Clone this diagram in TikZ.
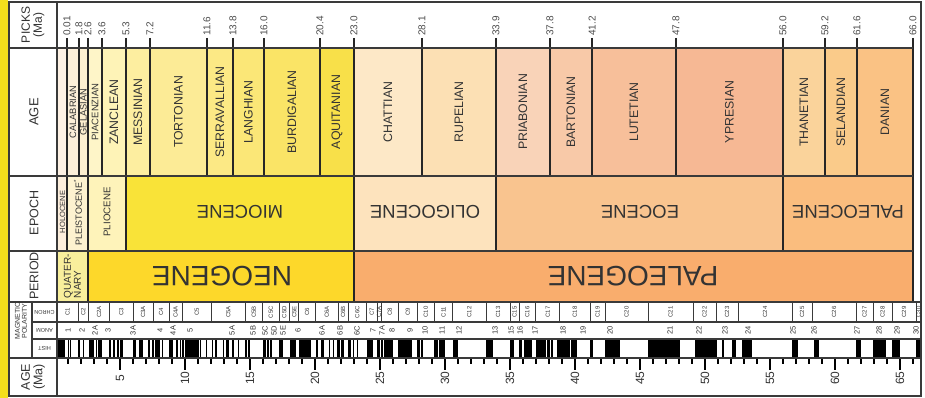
\documentclass[tikz,border=0pt]{standalone}
\usepackage{fontspec}
\setmainfont{Liberation Sans}
\newcommand\fsz[1]{\fontsize{#1}{#1}\selectfont}
\definecolor{ink}{HTML}{333333}
\definecolor{rule}{HTML}{3A3A3A}
\definecolor{stripe}{HTML}{F4DF1C}
\definecolor{quat}{HTML}{F8EF9C}
\definecolor{neog}{HTML}{FDD82A}
\definecolor{paleog}{HTML}{F9AD6D}
\definecolor{holo}{HTML}{FCEEDC}
\definecolor{pleis}{HTML}{FDF2D0}
\definecolor{plio}{HTML}{FEF3BA}
\definecolor{mioc}{HTML}{F9E338}
\definecolor{olig}{HTML}{FDE3BD}
\definecolor{eoc}{HTML}{F9C48F}
\definecolor{paleoc}{HTML}{FABD7E}
\definecolor{ageHol}{HTML}{FDF1E4}
\definecolor{ageCal}{HTML}{FCEFD9}
\definecolor{ageGel}{HTML}{FCEFD0}
\definecolor{agePia}{HTML}{FEF5C8}
\definecolor{ageZan}{HTML}{FEF3B7}
\definecolor{ageMes}{HTML}{FDEEA0}
\definecolor{ageTor}{HTML}{FCEB96}
\definecolor{ageSer}{HTML}{FCE985}
\definecolor{ageLan}{HTML}{FBE777}
\definecolor{ageBur}{HTML}{FAE466}
\definecolor{ageAqu}{HTML}{F8E049}
\definecolor{ageCha}{HTML}{FDE8C7}
\definecolor{ageRup}{HTML}{FCE0B4}
\definecolor{agePri}{HTML}{F9D3B8}
\definecolor{ageBar}{HTML}{F8C9A8}
\definecolor{ageLut}{HTML}{F7BF9A}
\definecolor{ageYpr}{HTML}{F6B894}
\definecolor{ageTha}{HTML}{FAD39B}
\definecolor{ageSel}{HTML}{FACB8A}
\definecolor{ageDan}{HTML}{FAC284}
\begin{document}
\begin{tikzpicture}[x=1pt,y=-1pt,
  rowline/.style={draw=rule,line width=1.1pt},
  bound/.style={draw=black!85,line width=1.1pt},
  tick/.style={draw=black,line width=1.4pt},
  vtext/.style={rotate=90,inner sep=0pt,text=ink,align=center},
  utext/.style={rotate=180,inner sep=0pt,text=ink},
  ltext/.style={vtext,align=left}]
\useasboundingbox (0,0) rectangle (925,398);
\fill[white] (0,0) rectangle (925,398);
\fill[stripe] (0,0) rectangle (8,398);
% ages
\fill[ageHol] (57,48) rectangle (67,176);
\foreach \l/\r/\c/\t/\s in {67/79/ageCal/CALABRIAN/9.3,79/88/ageGel/GELASIAN/9.3,88/102/agePia/PIACENZIAN/9.5,
  102/126/ageZan/ZANCLEAN/12.3,126/150/ageMes/MESSINIAN/12.3,150/207/ageTor/TORTONIAN/12.3,
  207/233/ageSer/SERRAVALLIAN/12.3,233/264/ageLan/LANGHIAN/12.3,264/320/ageBur/BURDIGALIAN/12.3,
  320/354/ageAqu/AQUITANIAN/12.3,354/422/ageCha/CHATTIAN/12.3,422/496/ageRup/RUPELIAN/12.3,
  496/550/agePri/PRIABONIAN/12.3,550/592/ageBar/BARTONIAN/12.3,592/676/ageLut/LUTETIAN/12.3,
  676/783/ageYpr/YPRESIAN/12.3,783/825/ageTha/THANETIAN/12.3,825/857/ageSel/SELANDIAN/12.3,
  857/913/ageDan/DANIAN/12.3}{
  \fill[\c] (\l,48) rectangle (\r,176);
  \node[vtext,font=\fsz{\s}] (age-\t) at ({(\l+\r)/2},112) {\t};
}
% epochs
\foreach \l/\r/\c in {57/67/holo,67/88/pleis,88/126/plio,126/354/mioc,354/496/olig,496/783/eoc,783/913/paleoc}
  \fill[\c] (\l,176) rectangle (\r,251);
\node[vtext,font=\fsz{7.5}] (holocene) at (62.5,212) {HOLOCENE};
\node[vtext,font=\fsz{9}] (pleistocene) at (78,213) {PLEISTOCENE\textsuperscript{*}};
\node[vtext,font=\fsz{9.7}] (pliocene) at (107,212) {PLIOCENE};
\node[utext,font=\fsz{18.5}] (miocene) at (240,212) {MIOCENE};
\node[utext,font=\fsz{18.5}] (oligocene) at (425,212) {OLIGOCENE};
\node[utext,font=\fsz{18.5}] (eocene) at (640,212) {EOCENE};
\node[utext,font=\fsz{18.5}] (paleocene) at (848,212) {PALEOCENE};
% periods
\fill[quat] (57,251) rectangle (88,302);
\fill[neog] (88,251) rectangle (354,302);
\fill[paleog] (354,251) rectangle (913,302);
\node[ltext,font=\fsz{10}] (quaternary) at (72.5,276) {QUATER-\\NARY};
\node[utext,font=\fsz{28}] (neogene) at (222,276) {NEOGENE};
\node[utext,font=\fsz{28}] (paleogene) at (633,276) {PALEOGENE};
% picks
\foreach \p/\v in {67/0.01,79/1.8,88/2.6,102/3.6,126/5.3,150/7.2,207/11.6,233/13.8,264/16.0,320/20.4,
  354/23.0,422/28.1,496/33.9,550/37.8,592/41.2,676/47.8,783/56.0,825/59.2,857/61.6,913/66.0}{
  \draw[bound] (\p,38) -- (\p,176);
  \node[vtext,anchor=west,font=\fsz{10},text=black!70] (pick-\p) at (\p,36) {\v};
}
\foreach \p in {67,88,126,354,496,783,913}
  \draw[bound] (\p,176) -- (\p,251);
\foreach \p in {88,354,913}
  \draw[bound] (\p,251) -- (\p,302);
% magnetic polarity
\begin{scope}
\clip (57,339) rectangle (921,358);
\foreach \a/\b in {0/0.781,0.988/1.072,1.173/1.185,1.778/1.945,2.128/2.148,2.581/3.032,3.116/3.207,
  3.330/3.596,4.187/4.300,4.493/4.631,4.799/4.896,4.997/5.235,6.033/6.252,6.436/6.733,7.140/7.212,
  7.251/7.285,7.454/7.489,7.528/7.642,7.695/8.108,8.254/8.300,8.771/9.105,9.311/9.426,9.647/9.721,
  9.786/9.937,9.984/11.056,11.146/11.188,11.592/11.657,12.049/12.174,12.272/12.474,12.887/13.032,
  13.183/13.363,13.608/13.739,14.070/14.163,14.609/14.775,14.870/15.032,15.974/16.268,16.303/16.472,
  16.543/16.721,17.235/17.533,18.056/18.524,18.748/19.722,20.040/20.213,20.439/20.709,21.083/21.159,
  21.403/21.483,21.659/21.688,21.767/21.936,21.992/22.268,22.564/22.754,22.902/23.030,23.233/23.295,
  23.962/24.000,24.109/24.474,24.761/24.984,25.099/25.264,25.304/25.987,26.420/27.439,27.859/28.087,
  28.141/28.278,29.183/29.477,29.527/29.970,30.591/31.034,33.157/33.705,34.999/35.294,35.706/35.892,
  36.051/36.700,36.969/37.753,37.872/38.093,38.159/38.333,38.615/39.627,39.698/40.145,41.154/41.390,
  42.301/43.432}
  \fill[black] ({55+13*\a},339) rectangle ({55+13*\b},358);
\foreach \l/\r in {648/680,695/717,722/724,732/736,742/752,792/798,814/819,856/861,873/886,892/900,916/921}
  \fill[black] (\l,339) rectangle (\r,358);
\end{scope}
\foreach \l/\r/\t in {57/78.1/C1,78.1/88.6/C2,88.6/109.4/C2A,109.4/133.4/C3,133.4/152.9/C3A,
  152.9/169/C4,169/182.2/C4A,182.2/211.6/C5,211.6/244.9/C5A,244.9/262.7/C5B,262.7/279.1/C5C,
  279.1/289.7/C5D,289.7/298.7/C5E,298.7/315.5/C6,315.5/338/C6A,338/348.3/C6B,348.3/366.5/C6C,
  366.5/376.9/C7,376.9/381.3/C7A,381.3/398.5/C8,398.5/417.2/C9,417.2/434.4/C10,434.4/452.7/C11,
  452.7/486/C12,486/510/C13,510/519.2/C15,519.2/535.6/C16,535.6/559.8/C17,559.8/590/C18,
  590/604.9/C19,604.9/648/C20,648/693/C21,693/716/C22,716/738/C23,738/792/C24,792/812/C25,
  812/856/C26,856/873/C27,873/892/C28,892/916/C29,916/921/C30}{
  \draw[rowline,line width=0.8pt] (\r,302) -- (\r,322);
  \node[vtext,font=\fsz{6}] (chron-\t) at ({(\l+\r)/2},312) {\t};
}
\foreach \p/\t in {68/1,82/2,95/2A,108/3,133/3A,160/4,173/4A,190/5,232/5A,253/5B,265/5C,274/5D,
  283/5E,298/6,322/6A,340/6B,357/6C,373/7,382/7A,392/8,410/9,425/10,442/11,459/12,495/13,511/15,
  520/16,535/17,563/18,583/19,610/20,670/21,699/22,725/23,748/24,793/25,814/26,857/27,879/28,
  897/29,916/30}
  \node[vtext,font=\fsz{7.5}] (anom-\t) at (\p,330.5) {\t};
% age axis
\foreach \m in {1,...,66}
  \draw[tick] ({55+13*\m},358) -- ++(0,6);
\foreach \m in {5,10,...,65}{
  \draw[tick] ({55+13*\m},358) -- ++(0,12);
  \node[vtext,font=\fsz{12}] (ma-\m) at ({55+13*\m},378) {\m};
}
% grid and frame
\draw[rowline] (9,48) -- (913,48) (9,176) -- (913,176) (9,251) -- (913,251);
\draw[rowline] (9,302) -- (921,302) (32,322) -- (921,322) (32,339) -- (921,339) (9,358) -- (921,358);
\draw[rowline] (57,2) -- (57,396) (32,302) -- (32,358);
\draw[rule,line width=1.6pt] (9,2) rectangle (921,396);
% row heads
\node[vtext,font=\fsz{12}] (picks) at (33,25) {PICKS\\(Ma)};
\node[vtext,font=\fsz{13}] (agehead) at (34,112) {AGE};
\node[vtext,font=\fsz{12.5}] (epochhead) at (34,213) {EPOCH};
\node[vtext,font=\fsz{12.5}] (periodhead) at (34,276) {PERIOD};
\node[vtext,font=\fsz{7}] (maghead) at (21,321) {MAGNETIC\\POLARITY};
\node[utext,font=\fsz{5.5}] (chronhead) at (44.5,312) {CHRON};
\node[utext,font=\fsz{5.5}] (anomhead) at (44.5,330.5) {ANOM};
\node[utext,font=\fsz{5.5}] (histhead) at (44.5,348.5) {HIST};
\node[vtext,font=\fsz{12.5}] (mahead) at (33,377) {AGE\\(Ma)};
\end{tikzpicture}
\end{document}
